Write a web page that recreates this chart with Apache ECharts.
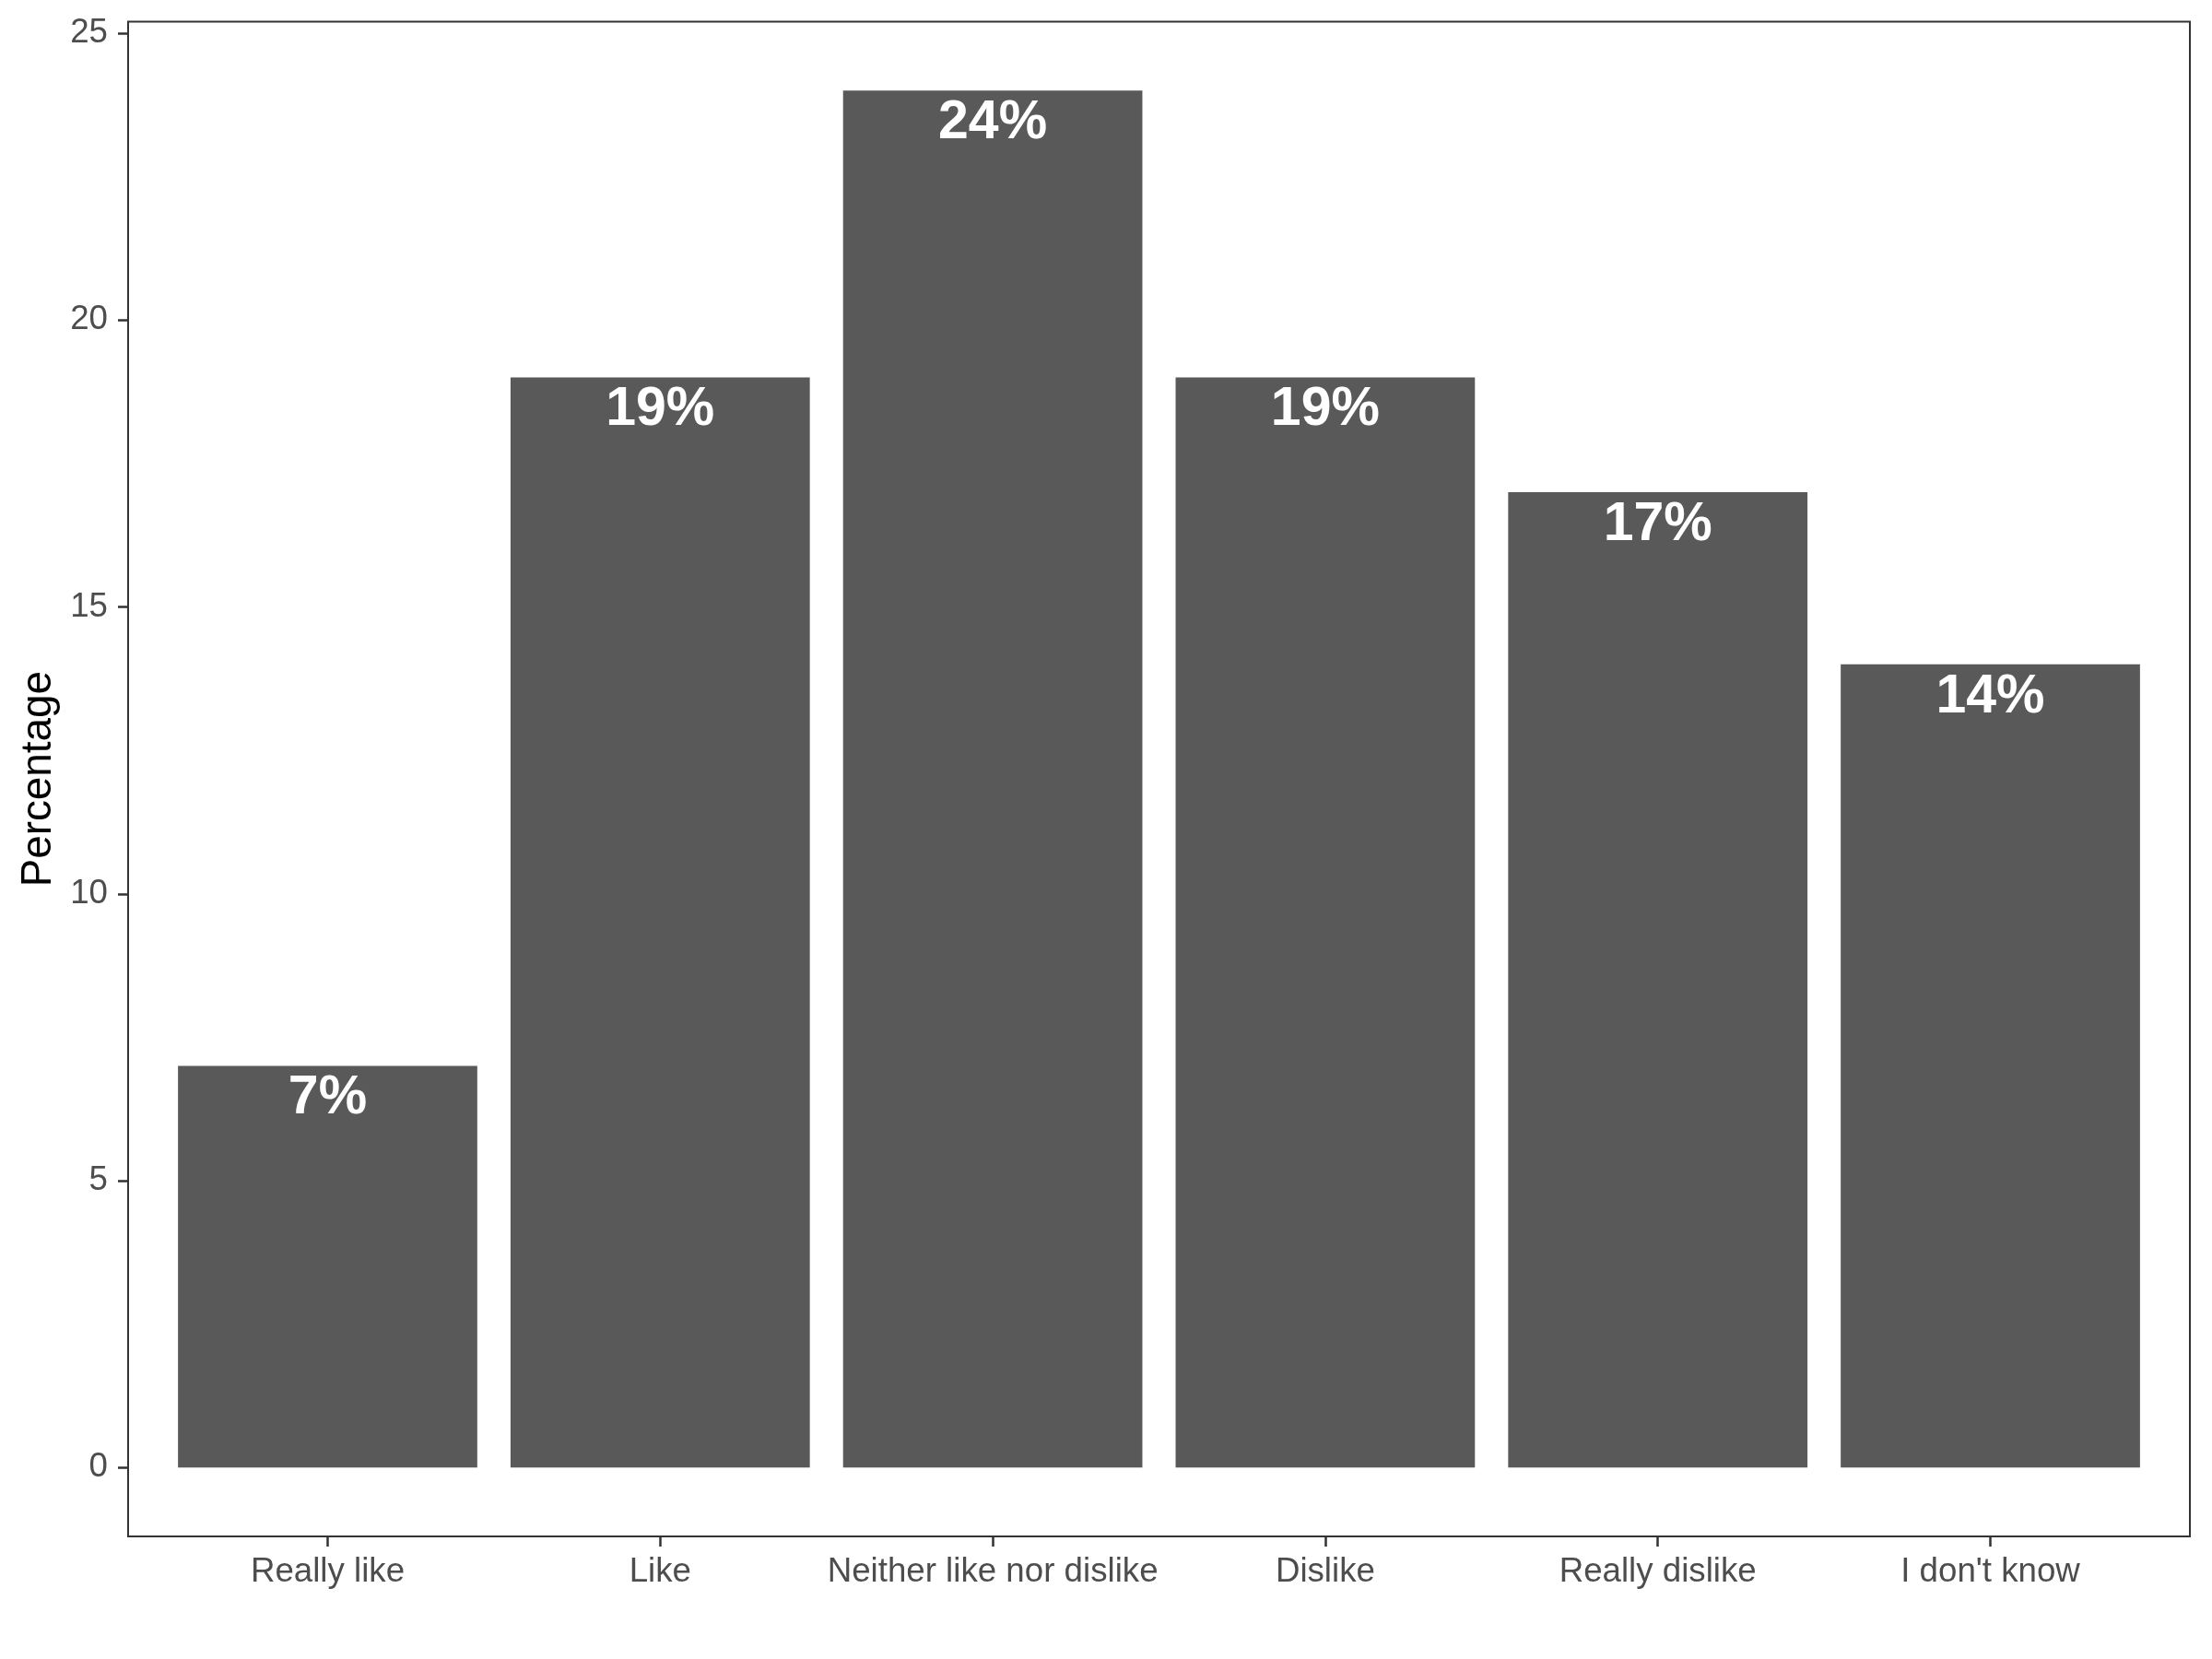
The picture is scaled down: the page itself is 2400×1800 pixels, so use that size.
<!DOCTYPE html>
<html>
<head>
<meta charset="utf-8">
<script src="https://cdn.jsdelivr.net/npm/echarts@6/dist/echarts.min.js"></script>
<style>html,body{margin:0;padding:0;background:#fff}#c{width:2400px;height:1800px}</style>
</head>
<body>
<div id="c"></div>
<script>
const categories = ["Really like", "Like", "Neither like nor dislike", "Dislike", "Really dislike", "I don't know"];
const percentages = [7, 19, 24, 19, 17, 14];
const yTicks = [0, 5, 10, 15, 20, 25];

const FONT = "Liberation Sans";
const panel = { left: 139, right: 24, top: 23.5, bottom: 133 };
const bandPx = (2400 - panel.left - panel.right) / 6.2;

const chart = echarts.init(document.getElementById('c'), null, { renderer: 'canvas' });
chart.setOption({
  backgroundColor: '#ffffff',
  animation: false,
  grid: [
    { left: panel.left, right: panel.right, top: panel.top, bottom: panel.bottom,
      show: true, borderColor: '#333333', borderWidth: 2, backgroundColor: 'transparent' },
    { left: panel.left + bandPx * 0.1, right: panel.right + bandPx * 0.1, top: panel.top, bottom: panel.bottom }
  ],
  xAxis: [
    { gridIndex: 0, type: 'value', min: 0, max: 1, show: false },
    { gridIndex: 1, type: 'category', data: categories, position: 'bottom',
      axisLine: { show: false, onZero: false },
      axisTick: { show: true, alignWithLabel: true, length: 11, lineStyle: { color: '#333333', width: 2.5 } },
      axisLabel: { fontFamily: FONT, fontSize: 36.7, color: '#4D4D4D', margin: 20, interval: 0 },
      splitLine: { show: false } }
  ],
  yAxis: [
    { gridIndex: 0, type: 'value', min: -1.2, max: 25.2,
      name: 'Percentage', nameLocation: 'middle', nameGap: 73,
      nameTextStyle: { fontFamily: FONT, fontSize: 45.8, color: '#000000' },
      axisLine: { show: false },
      axisTick: { show: true, length: 11, customValues: yTicks, lineStyle: { color: '#333333', width: 2.5 } },
      axisLabel: { fontFamily: FONT, fontSize: 36.7, color: '#4D4D4D', margin: 22, customValues: yTicks },
      splitLine: { show: false } },
    { gridIndex: 1, type: 'value', min: -1.2, max: 25.2, show: false, splitLine: { show: false } }
  ],
  series: [{
    type: 'bar', xAxisIndex: 1, yAxisIndex: 1,
    data: percentages, barWidth: '90%',
    itemStyle: { color: '#595959' },
    label: { show: true, position: 'insideTop', distance: 6, formatter: '{c}%',
      fontFamily: FONT, fontWeight: 'bold', fontSize: 59, color: '#ffffff' }
  }]
});
</script>
</body>
</html>
